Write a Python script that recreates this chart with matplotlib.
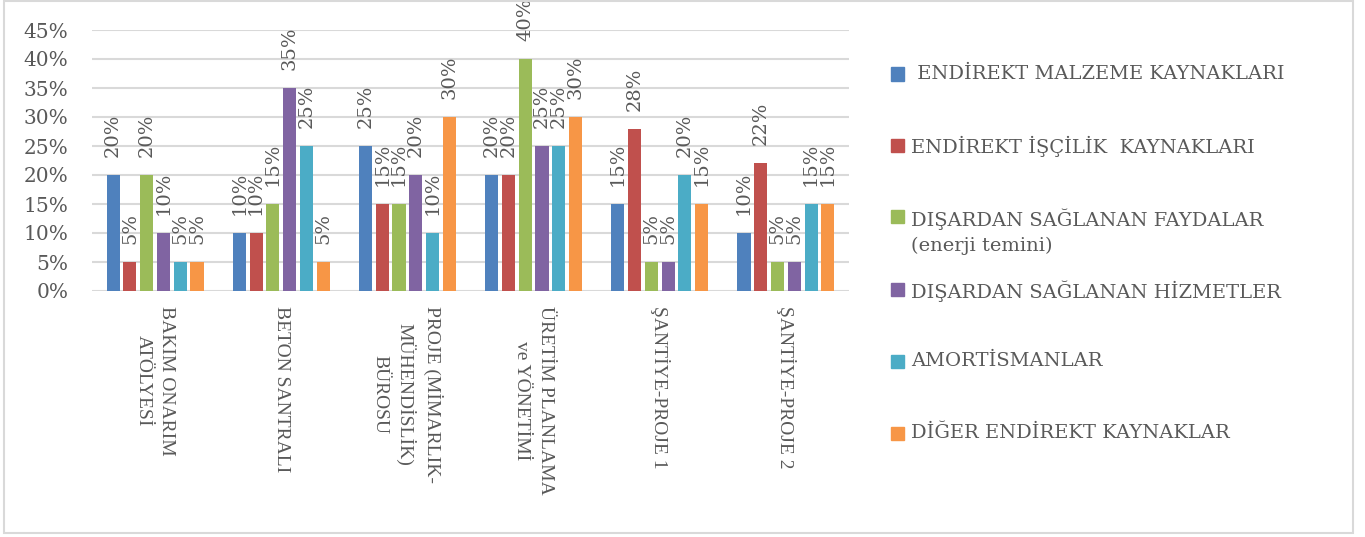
import matplotlib
matplotlib.use("Agg")
import numpy as np
import matplotlib.pyplot as plt
from matplotlib.patches import Rectangle
from matplotlib.ticker import PercentFormatter

categories = [
    "BAKIM ONARIM\nATÖLYESİ",
    "BETON SANTRALI",
    "PROJE (MİMARLIK-\nMÜHENDİSLİK)\nBÜROSU",
    "ÜRETİM PLANLAMA\nve YÖNETİMİ",
    "ŞANTİYE-PROJE 1",
    "ŞANTİYE-PROJE 2",
]
series_names = [
    " ENDİREKT MALZEME KAYNAKLARI",
    "ENDİREKT İŞÇİLİK  KAYNAKLARI",
    "DIŞARDAN SAĞLANAN FAYDALAR\n(enerji temini)",
    "DIŞARDAN SAĞLANAN HİZMETLER",
    "AMORTİSMANLAR",
    "DİĞER ENDİREKT KAYNAKLAR",
]
malzeme = [20, 10, 25, 20, 15, 10]
iscilik = [5, 10, 15, 20, 28, 22]
faydalar = [20, 15, 15, 40, 5, 5]
hizmetler = [10, 35, 20, 25, 5, 5]
amortisman = [5, 25, 10, 25, 20, 15]
diger = [5, 5, 30, 30, 15, 15]
series_values = [malzeme, iscilik, faydalar, hizmetler, amortisman, diger]
colors = ["#4F81BD", "#C0504D", "#9BBB59", "#8064A2", "#4BACC6", "#F79646"]

TXT = "#595959"
GRID = "#D9D9D9"
SERIF = ["DejaVu Serif"]

fig = plt.figure(figsize=(13.65, 5.37), dpi=100)
ax = fig.add_axes([92 / 1365, 1 - 291 / 537, (849 - 92) / 1365, (291 - 30) / 537])

x = np.arange(len(categories))
pitch = 0.133
width = 0.104
for i, (vals, col) in enumerate(zip(series_values, colors)):
    pos = x + (i - 2.5) * pitch
    bars = ax.bar(pos, vals, width=width, color=col, zorder=3)
    for b, v in zip(bars, vals):
        ax.annotate(f"{v}%", xy=(b.get_x() + b.get_width() / 2, v),
                    xytext=(0, 13), textcoords="offset points",
                    rotation=90, ha="center", va="bottom",
                    fontsize=14, color=TXT, family=SERIF)

ax.set_xlim(-0.5, len(categories) - 0.5)
ax.set_ylim(0, 45)
ax.set_yticks(np.arange(0, 46, 5))
ax.yaxis.set_major_formatter(PercentFormatter(decimals=0))
ax.grid(True, axis="y", color=GRID, linewidth=1.5, zorder=0)
ax.tick_params(axis="y", length=0, pad=17, labelsize=14.5, labelcolor=TXT)
for lbl in ax.get_yticklabels():
    lbl.set_family(SERIF)
ax.set_xticks([])
for s in ax.spines.values():
    s.set_visible(False)

# category labels, rotated, hanging below the axis
for xi, cat in zip(x, categories):
    ax.annotate(cat, xy=(xi, 0), xytext=(0, -11), textcoords="offset points",
                rotation=-90, ha="center", va="top", multialignment="center",
                fontsize=14, color=TXT, family=["Liberation Serif"],
                linespacing=1.5, annotation_clip=False)

# legend drawn by hand so the two-line entry keeps the even spacing
leg_y = [74, 145, 217, 289, 361, 433]
for name, col, yy in zip(series_names, colors, leg_y):
    fig.patches.append(Rectangle((891 / 1365, 1 - (yy + 6.5) / 537), 13 / 1365, 13 / 537,
                                 transform=fig.transFigure, color=col))
    fig.text(911 / 1365, 1 - (yy - 9) / 537, name, ha="left", va="top",
             fontsize=14, color=TXT, family=SERIF, linespacing=1.5)

# chart border
fig.patches.append(Rectangle((3.5 / 1365, 4 / 537), 1349 / 1365, 532 / 537,
                             transform=fig.transFigure, fill=False,
                             edgecolor=GRID, linewidth=1.5))

fig.savefig("out.png", dpi=100)
